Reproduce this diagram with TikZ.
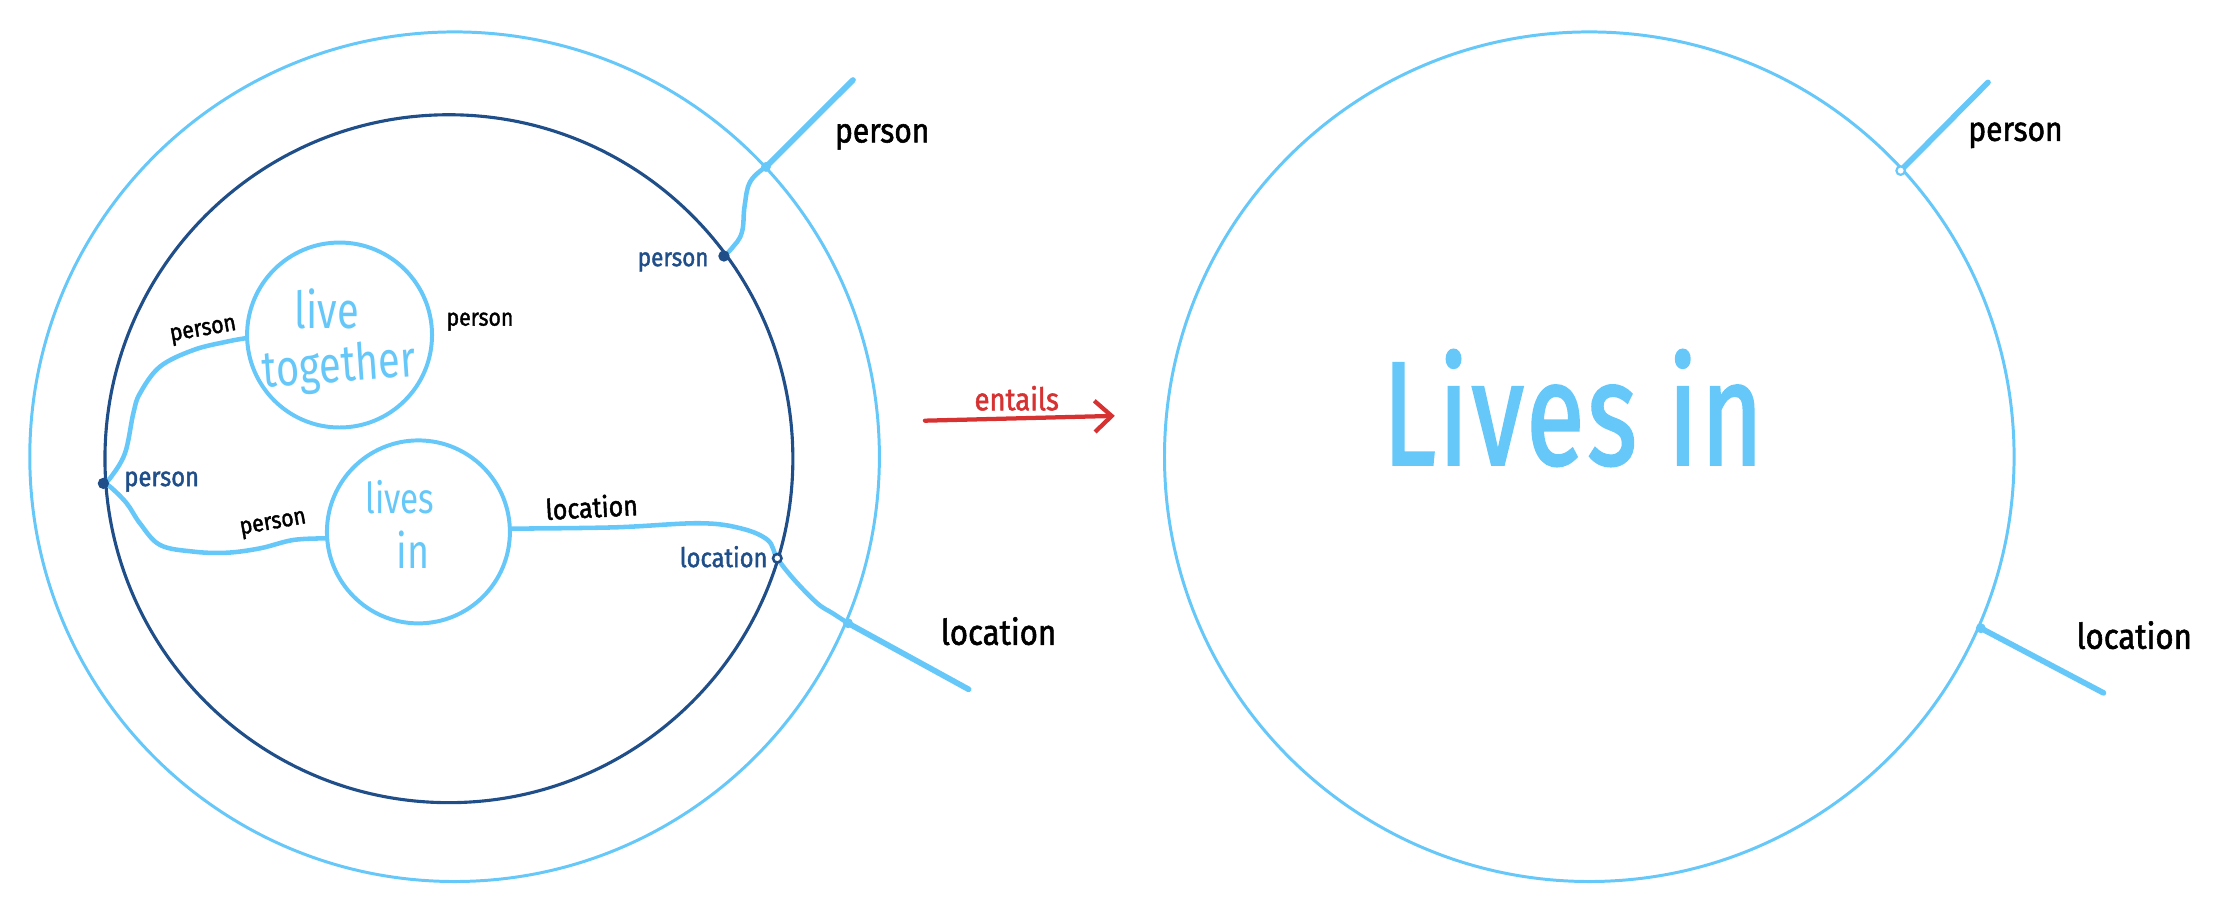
\documentclass[tikz,border=0pt]{standalone}
\usepackage{fontspec}
\setmainfont{Fira Sans}
\newfontfamily\hand{Fira Sans}
\newfontfamily\handp{Fira Sans}[FakeStretch=0.88, FakeBold=1.6]
\newfontfamily\handn{Fira Sans}[FakeStretch=0.78]
\newfontfamily\handb{Fira Sans}[FakeStretch=0.72, LetterSpace=2, FakeBold=1.5]
\usetikzlibrary{arrows.meta}
\definecolor{lb}{HTML}{66C7F9}
\definecolor{db}{HTML}{1F4E89}
\definecolor{rd}{HTML}{D63232}
\tikzset{
  bigring/.style={circle, draw=lb, line width=2.1pt, inner sep=0pt, minimum size=599pt},
  darkring/.style={circle, draw=db, line width=2.2pt, inner sep=0pt, minimum size=485pt},
  relring/.style={circle, draw=lb, line width=2.8pt, inner sep=0pt, minimum size=#1},
  conn/.style={draw=lb, line width=3.2pt, line cap=round, line join=round},
  stub/.style={draw=lb, line width=4pt, line cap=round},
  reltext/.style={text=lb, inner sep=0pt, font={\handn\fontsize{#1}{#1}\selectfont}},
  lbl/.style={text=black, inner sep=0pt, font={\handp\fontsize{#1}{#1}\selectfont}},
  dlbl/.style={text=db, inner sep=0pt, font={\handp\fontsize{#1}{#1}\selectfont}},
  dotl/.style={circle, fill=lb, inner sep=0pt, minimum size=7pt},
  hdotl/.style={circle, draw=lb, fill=white, line width=1.5pt, inner sep=0pt, minimum size=6pt},
  dotd/.style={circle, fill=db, inner sep=0pt, minimum size=8pt},
  hdotd/.style={circle, draw=db, fill=white, line width=1.8pt, inner sep=0pt, minimum size=6pt},
  entail/.style={draw=rd, line width=3pt, line cap=round, -{Straight Barb[length=12pt,width=22pt,line width=3pt]}}
}
\begin{document}
\begin{tikzpicture}[x=1pt,y=-1pt]
\useasboundingbox (0,0) rectangle (1568,650);
% ---------- left side ----------
\node[bigring] (L) at (320.5,322) {};
\node[darkring] (D) at (316.5,323.4) {};
\node[relring=130.4pt] (lt) at (239.4,236.2) {};
\node[relring=129pt] (li) at (295,375) {};
\node[reltext=36, anchor=base] (ltA) at (230.3,231.5) {live};
\node[reltext=36, anchor=base, rotate=4] (ltB) at (239.7,269.1) {together};
\node[reltext=30, anchor=base] (liA) at (282,361.9) {lives};
\node[reltext=34, anchor=base] (liB) at (291.4,400.7) {in};

\coordinate (po) at (540,117.7);
\coordinate (poE) at (601.4,56.4);
\coordinate (pin) at (510.4,180.5);
\coordinate (pl) at (72.9,340.8);
\coordinate (lin) at (548,393.6);
\coordinate (lo) at (597.9,439.4);
\coordinate (loE) at (682.9,486);

\draw[conn] plot[smooth, tension=0.7] coordinates {(pin) (516,175) (523,164) (525,145) (529,128) (po)};
\draw[conn] plot[smooth, tension=0.6] coordinates {(pl) (77.6,337.2) (88.1,319.6) (94,291.4) (98.7,277.3) (112.8,258.5) (136.3,246.8) (159.8,240.9) (lt.182)};
\draw[conn] plot[smooth, tension=0.6] coordinates {(pl) (77.6,343.1) (89.3,354.8) (98.7,369) (112.8,384.2) (136.3,388.9) (159.8,389.7) (183.3,386.6) (206.8,380.7) (li.184)};
\draw[conn] plot[smooth, tension=0.6] coordinates {(li.2) (433.3,371.8) (492.7,368.9) (522.3,372.5) (541.2,380.7) (lin) (560.1,408.9) (576.3,425.4) (587.1,432.4) (lo)};
\draw[stub] (po) -- (poE);
\draw[stub] (lo) -- (loE);

\node[dotl] (poD) at (po) {};
\node[dotl] (loD) at (lo) {};
\node[dotd] (pinD) at (pin) {};
\node[dotd] (plD) at (pl) {};
\node[hdotd] (linD) at (lin) {};

\node[lbl=17, rotate=10] (t1) at (143.4,233.8) {person};
\node[lbl=17] (t2) at (338.4,226.8) {person};
\node[lbl=17, rotate=10] (t3) at (192.7,370.1) {person};
\node[lbl=20, rotate=3] (t4) at (417.1,357.2) {location};
\node[dlbl=18] (t5) at (474.6,184.7) {person};
\node[dlbl=19] (t6) at (114,339.6) {person};
\node[dlbl=19] (t7) at (510.2,392.5) {location};
\node[lbl=24] (t8) at (622,96.5) {person};
\node[lbl=25] (t9) at (704,445) {location};

% ---------- entails ----------
\coordinate (e1) at (652.1,296.6);
\coordinate (e2) at (786,293.2);
\draw[entail] (e1) -- (e2);
\node[text=rd, inner sep=0pt, font={\handp\fontsize{22}{22}\selectfont}] (ent) at (716.8,280.8) {entails};

% ---------- right side ----------
\node[bigring] (R) at (1120.5,322) {};
\node[text=lb, inner sep=0pt, anchor=base, font={\handb\fontsize{104}{104}\selectfont}] (big) at (1109,327.6) {Lives in};
\coordinate (rp) at (1340,120.3);
\coordinate (rpE) at (1401.6,58.1);
\coordinate (rl) at (1396.5,442.9);
\coordinate (rlE) at (1483,488.5);
\draw[stub] (rp) -- (rpE);
\draw[stub] (rl) -- (rlE);
\node[hdotl] (rpD) at (rp) {};
\node[dotl] (rlD) at (rl) {};
\node[lbl=24] (r1) at (1421,95.4) {person};
\node[lbl=25] (r2) at (1504.7,447.8) {location};
\end{tikzpicture}
\end{document}
